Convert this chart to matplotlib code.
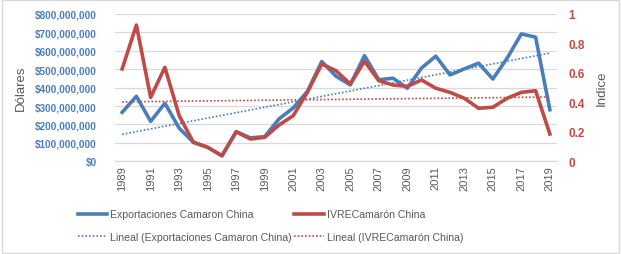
import matplotlib.pyplot as plt
import numpy as np
from matplotlib.ticker import FuncFormatter, MultipleLocator

BLUE = "#4A7EBB"
RED = "#BE4B48"
GRAY = "#595959"

years = list(range(1989, 2020))
exportaciones = [266e6, 353e6, 217e6, 315e6, 180e6, 103e6, 76e6, 30e6, 161e6, 127e6,
                 134e6, 230e6, 290e6, 380e6, 542e6, 462e6, 415e6, 574e6, 443e6, 451e6,
                 397e6, 507e6, 571e6, 469e6, 502e6, 533e6, 447e6, 560e6, 692e6, 674e6,
                 280e6]
ivre = [0.627, 0.925, 0.434, 0.638, 0.31, 0.129, 0.095, 0.038, 0.20, 0.151,
        0.163, 0.246, 0.31, 0.47, 0.66, 0.615, 0.525, 0.679, 0.547, 0.518,
        0.509, 0.552, 0.496, 0.468, 0.428, 0.36, 0.367, 0.428, 0.468, 0.479,
        0.185]

x = np.arange(len(years))
# lineas de tendencia (como en Excel)
pb = np.polyfit(x, exportaciones, 1)
pr = np.polyfit(x, ivre, 1)

plt.rcParams['font.family'] = ['Liberation Sans', 'DejaVu Sans']

fig = plt.figure(figsize=(6.21, 2.55), dpi=100)
ax = fig.add_axes([115/621, 1-162.3/255, (557-115)/621, (162.3-15)/255])
ax2 = ax.twinx()

l1, = ax.plot(x, exportaciones, color=BLUE, lw=2.6, label="Exportaciones Camaron China")
t1, = ax.plot(x, np.polyval(pb, x), color=BLUE, lw=1.2, ls=(0, (1, 1.2)),
              label="Lineal (Exportaciones Camaron China)")
l2, = ax2.plot(x, ivre, color=RED, lw=2.6, label="IVRECamarón China")
t2, = ax2.plot(x, np.polyval(pr, x), color=RED, lw=1.2, ls=(0, (1, 1.2)),
               label="Lineal (IVRECamarón China)")

ax.set_xlim(-0.5, len(years) - 0.5)
ax.set_ylim(0, 800e6)
ax2.set_ylim(0, 1)
ax.yaxis.set_major_locator(MultipleLocator(100e6))
ax2.yaxis.set_major_locator(MultipleLocator(0.2))
ax.yaxis.set_major_formatter(FuncFormatter(lambda v, p: "${:,.0f}".format(v)))
ax2.yaxis.set_major_formatter(FuncFormatter(lambda v, p: "{:g}".format(round(v, 1))))

ax.set_xticks(x[::2])
ax.set_xticklabels([str(y) for y in years[::2]], rotation=90, fontsize=8, color=GRAY)
ax.grid(axis='y', color="#D9D9D9", lw=0.9)
ax.set_axisbelow(True)

for a in (ax, ax2):
    for s in ("top", "left", "right"):
        a.spines[s].set_visible(False)
    a.spines["bottom"].set_color("#D9D9D9")
    a.tick_params(length=0)
ax.tick_params(axis='y', labelcolor=BLUE, labelsize=7.2, pad=13)
ax.tick_params(axis='x', pad=3)
ax2.tick_params(axis='y', labelcolor=RED, labelsize=8.5, pad=8)
for lab in ax.get_yticklabels() + ax2.get_yticklabels():
    lab.set_fontweight("bold")

ax.set_ylabel("Dólares", color=GRAY, fontsize=9.5, labelpad=6)
ax2.set_ylabel("Indice", color=GRAY, fontsize=9.5, labelpad=8)

fig.legend(handles=[l1, t1, l2, t2], ncol=2, loc="upper left",
           bbox_to_anchor=(68/621, 1-201/255), frameon=False, fontsize=7.6,
           labelcolor=GRAY, handlelength=2.8, handletextpad=0.3,
           columnspacing=0.2, labelspacing=1.2)

fig.patches.append(plt.Rectangle((0.003, 0.005), 0.994, 0.99, transform=fig.transFigure,
                                 fill=False, edgecolor="#D9D9D9", lw=1))

fig.savefig("out.png", dpi=100)
